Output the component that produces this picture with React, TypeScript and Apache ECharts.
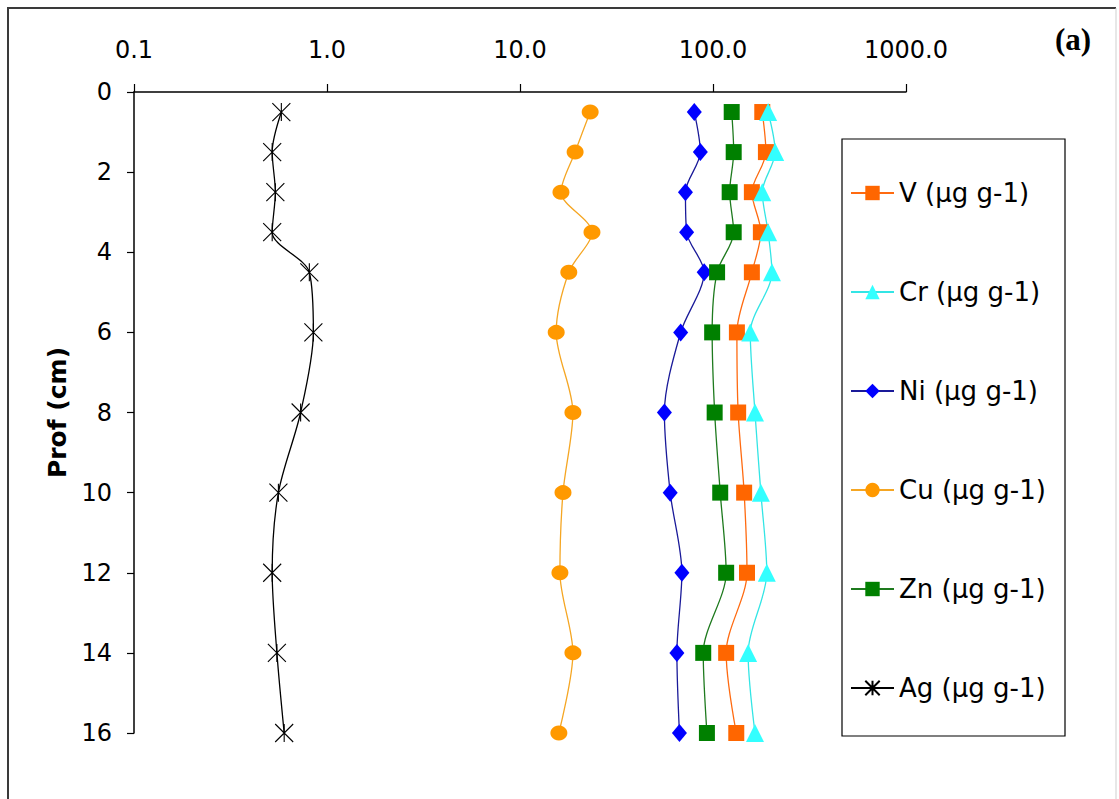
import React, { useEffect, useRef } from "react";
import * as echarts from "echarts";

const depths = [0.5, 1.5, 2.5, 3.5, 4.5, 6, 8, 10, 12, 14, 16];
const vValues = [180, 188, 159, 177, 159, 133, 135, 145, 150, 117, 132];
const crValues = [193, 210, 180, 193, 202, 156, 165, 177, 190, 152, 165];
const niValues = [80, 86, 72, 73, 90, 68, 56, 60, 69, 65, 67];
const cuValues = [23.1, 19.3, 16.3, 23.6, 17.9, 15.4, 18.8, 16.7, 16.1, 18.8, 15.9];
const znValues = [125, 128, 122, 128, 105, 99, 102, 109, 117, 89, 93];
const agValues = [0.58, 0.52, 0.54, 0.52, 0.81, 0.85, 0.73, 0.56, 0.52, 0.55, 0.6];

const seriesNames = [
  "V (µg g-1)",
  "Cr (µg g-1)",
  "Ni (µg g-1)",
  "Cu (µg g-1)",
  "Zn (µg g-1)",
  "Ag (µg g-1)",
];

const starPath = "path://M0,0L20,20M20,0L0,20M10,0L10,20";

const FONT = "DejaVu Sans";

function pairs(values: number[]) {
  return values.map((v, i) => [v, depths[i]]);
}

export default function App() {
  const ref = useRef<HTMLDivElement>(null);
  useEffect(() => {
    if (!ref.current) return;
    const chart = echarts.init(ref.current, undefined, { renderer: "svg" });
    const mk = (
      name: string,
      values: number[],
      lineColor: string,
      fill: string,
      symbol: string,
      size: number | number[],
      extraItem: any = {}
    ) => ({
      name,
      type: "line",
      smooth: 0.3,
      data: pairs(values),
      symbol,
      symbolSize: size,
      showSymbol: true,
      lineStyle: { color: lineColor, width: 1.3 },
      itemStyle: { color: fill, ...extraItem },
      emphasis: { disabled: true },
    });
    chart.setOption({
      animation: false,
      backgroundColor: "#ffffff",
      grid: { left: 134, top: 92, width: 772, height: 641 },
      xAxis: {
        type: "log",
        logBase: 10,
        position: "top",
        min: 0.1,
        max: 1000,
        axisLine: { show: true, onZero: false, lineStyle: { color: "#000", width: 1.5 } },
        axisTick: { show: true, inside: false, length: 8, lineStyle: { color: "#000", width: 1.2 } },
        minorTick: { show: false },
        splitLine: { show: false },
        axisLabel: {
          margin: 30,
          fontFamily: FONT,
          fontSize: 24,
          color: "#000",
          formatter: (v: number) => v.toFixed(1),
        },
      },
      yAxis: {
        type: "value",
        inverse: true,
        min: 0,
        max: 16,
        interval: 2,
        name: "Prof (cm)",
        nameLocation: "middle",
        nameGap: 64,
        nameRotate: 90,
        nameTextStyle: { fontFamily: FONT, fontSize: 25, fontWeight: "bold", color: "#000" },
        axisLine: { show: true, onZero: false, lineStyle: { color: "#000", width: 1.5 } },
        axisTick: { show: true, inside: false, length: 7, lineStyle: { color: "#000", width: 1.2 } },
        splitLine: { show: false },
        axisLabel: { margin: 22, fontFamily: FONT, fontSize: 24, color: "#000" },
      },
      legend: {
        orient: "vertical",
        left: 850,
        top: 179,
        padding: 0,
        itemWidth: 43,
        itemHeight: 18,
        itemGap: 71,
        textStyle: { fontFamily: FONT, fontSize: 26, color: "#000", lineHeight: 28 },
        data: seriesNames,
      },
      graphic: [
        {
          type: "rect",
          shape: { x: 842, y: 139, width: 223, height: 597 },
          style: { fill: "none", stroke: "#000", lineWidth: 1.2 },
          z: 0,
        },
        {
          type: "line",
          shape: { x1: 7, y1: 8, x2: 1116, y2: 8 },
          style: { stroke: "#3a3a3a", lineWidth: 2 },
        },
        {
          type: "line",
          shape: { x1: 8, y1: 7, x2: 8, y2: 799 },
          style: { stroke: "#3a3a3a", lineWidth: 2 },
        },
        {
          type: "line",
          shape: { x1: 1116, y1: 8, x2: 1116, y2: 799 },
          style: { stroke: "#cfcfcf", lineWidth: 1 },
        },
        {
          type: "text",
          left: 1055,
          top: 24,
          style: {
            text: "(a)",
            font: "bold 31px 'Liberation Serif'",
            fill: "#000",
          },
        },
      ],
      series: [
        mk(seriesNames[0], vValues, "#FF6A10", "#FF6600", "rect", 16),
        mk(seriesNames[1], crValues, "#33E5E5", "#33FFFF", "triangle", 18),
        mk(seriesNames[2], niValues, "#1A1A99", "#0000FF", "diamond", [15, 18]),
        mk(seriesNames[3], cuValues, "#F5A623", "#FF9900", "circle", [17, 15]),
        mk(seriesNames[4], znValues, "#1E7A1E", "#008000", "rect", 16),
        mk(seriesNames[5], agValues, "#000000", "none", starPath, 18, {
          borderColor: "#000",
          borderWidth: 1.1,
        }),
      ],
    });
    return () => chart.dispose();
  }, []);
  return (
    <div
      ref={ref}
      style={{ position: "fixed", left: 0, top: 0, width: 1119, height: 799, background: "#fff" }}
    />
  );
}
